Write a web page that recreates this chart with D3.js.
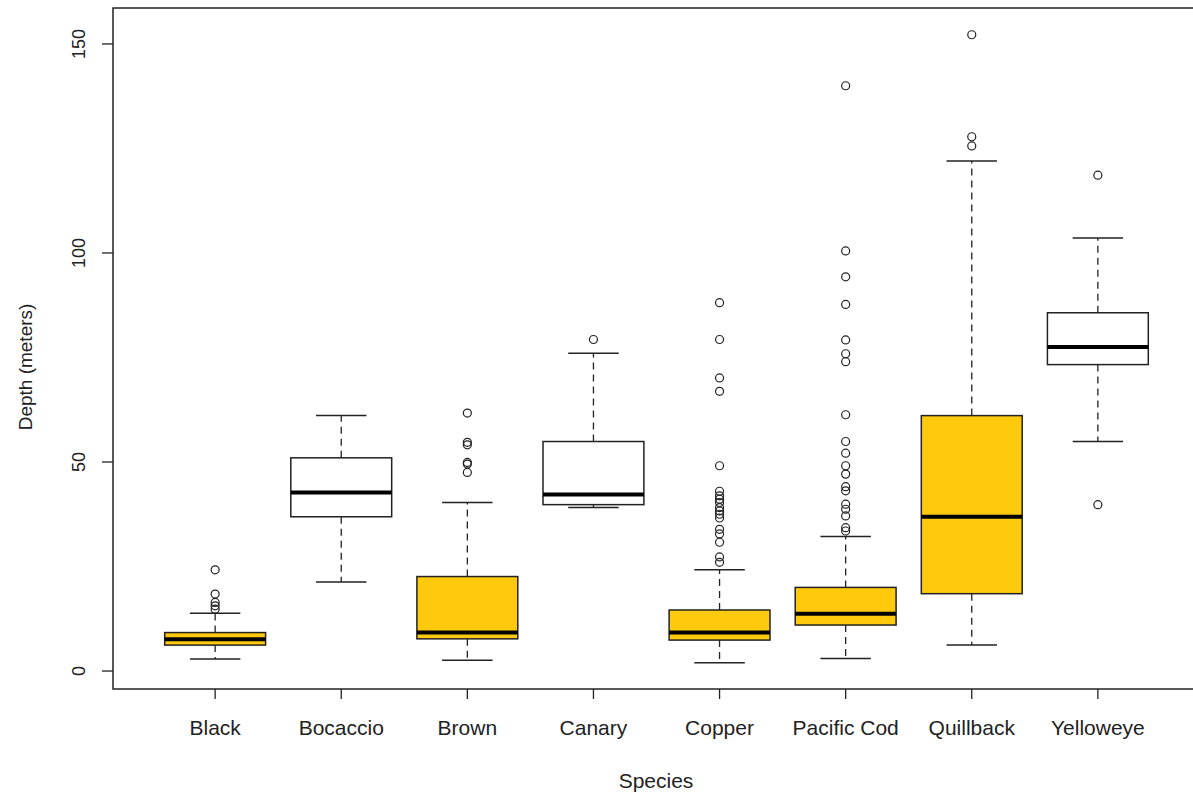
<!DOCTYPE html>
<html>
<head>
<meta charset="utf-8">
<script src="https://cdn.jsdelivr.net/npm/d3@7"></script>
<style>
  body { margin: 0; background: #fff; }
  svg { font-family: "Liberation Sans", Arial, sans-serif; }
</style>
</head>
<body>
<svg id="canvas" width="1193" height="796"></svg>
<script>
let species = ["Black", "Bocaccio", "Brown", "Canary", "Copper", "Pacific Cod", "Quillback", "Yelloweye"];
let lowWhisker = [2.9, 21.3, 2.6, 39.1, 2.0, 3.0, 6.2, 54.9];
let q1 = [6.2, 36.9, 7.7, 39.8, 7.4, 11.0, 18.5, 73.3];
let median = [7.6, 42.7, 9.2, 42.2, 9.2, 13.7, 36.9, 77.5];
let q3 = [9.2, 51.0, 22.6, 54.9, 14.6, 20.0, 61.1, 85.7];
let highWhisker = [13.8, 61.1, 40.3, 76.0, 24.2, 32.2, 122.0, 103.6];
let outliers = [
  [24.2, 18.4, 16.4, 15.6, 14.8],
  [],
  [61.7, 54.7, 54.1, 49.9, 49.5, 47.5],
  [79.3],
  [88.1, 79.3, 70.1, 66.9, 49.1, 43.0, 41.9, 41.1, 40.3, 39.1, 38.3, 37.5, 36.6, 33.9, 32.8, 30.8, 27.3, 26.0],
  [140.0, 100.5, 94.3, 87.7, 79.2, 75.9, 74.0, 61.3, 54.9, 52.1, 49.1, 47.1, 44.1, 43.1, 39.9, 38.7, 37.1, 34.3, 33.5],
  [152.2, 127.8, 125.6],
  [118.6, 39.8]
];
let boxFill = ["#FFC90E", "#FFFFFF", "#FFC90E", "#FFFFFF", "#FFC90E", "#FFC90E", "#FFC90E", "#FFFFFF"];
let yTicks = [0, 50, 100, 150];

let canvas = d3.select("#canvas");

// plot region (R style: frame runs a bit past the last category, off the page)
let plotLeft = 113, plotRight = 1200, plotTop = 8, plotBottom = 689;

let x = d3.scaleLinear().domain([0.19, 8.81]).range([plotLeft, plotRight]);
let y = d3.scaleLinear().domain([-4.3, 158.6]).range([plotBottom, plotTop]);

let boxHalf = 0.4, capHalf = 0.2;

let groups = canvas.selectAll("g.box")
  .data(species)
  .enter()
  .append("g")
  .attr("class", "box");

// whiskers (dashed)
groups.append("line")
  .attr("x1", (d, i) => x(i + 1)).attr("x2", (d, i) => x(i + 1))
  .attr("y1", (d, i) => y(q3[i])).attr("y2", (d, i) => y(highWhisker[i]))
  .attr("stroke", "#222").attr("stroke-width", 1.3).attr("stroke-dasharray", "7,5");
groups.append("line")
  .attr("x1", (d, i) => x(i + 1)).attr("x2", (d, i) => x(i + 1))
  .attr("y1", (d, i) => y(q1[i])).attr("y2", (d, i) => y(lowWhisker[i]))
  .attr("stroke", "#222").attr("stroke-width", 1.3).attr("stroke-dasharray", "7,5");

// caps
groups.append("line")
  .attr("x1", (d, i) => x(i + 1 - capHalf)).attr("x2", (d, i) => x(i + 1 + capHalf))
  .attr("y1", (d, i) => y(highWhisker[i])).attr("y2", (d, i) => y(highWhisker[i]))
  .attr("stroke", "#222").attr("stroke-width", 1.5);
groups.append("line")
  .attr("x1", (d, i) => x(i + 1 - capHalf)).attr("x2", (d, i) => x(i + 1 + capHalf))
  .attr("y1", (d, i) => y(lowWhisker[i])).attr("y2", (d, i) => y(lowWhisker[i]))
  .attr("stroke", "#222").attr("stroke-width", 1.5);

// boxes
groups.append("rect")
  .attr("x", (d, i) => x(i + 1 - boxHalf))
  .attr("width", (d, i) => x(i + 1 + boxHalf) - x(i + 1 - boxHalf))
  .attr("y", (d, i) => y(q3[i]))
  .attr("height", (d, i) => y(q1[i]) - y(q3[i]))
  .attr("fill", (d, i) => boxFill[i])
  .attr("stroke", "#222").attr("stroke-width", 1.5);

// medians
groups.append("line")
  .attr("x1", (d, i) => x(i + 1 - boxHalf)).attr("x2", (d, i) => x(i + 1 + boxHalf))
  .attr("y1", (d, i) => y(median[i])).attr("y2", (d, i) => y(median[i]))
  .attr("stroke", "#000").attr("stroke-width", 4);

// outliers
groups.each(function (d, i) {
  d3.select(this).selectAll("circle")
    .data(outliers[i])
    .enter()
    .append("circle")
    .attr("cx", x(i + 1))
    .attr("cy", (v) => y(v))
    .attr("r", 4)
    .attr("fill", "none")
    .attr("stroke", "#222")
    .attr("stroke-width", 1.2);
});

// frame
canvas.append("rect")
  .attr("x", plotLeft).attr("y", plotTop)
  .attr("width", plotRight - plotLeft).attr("height", plotBottom - plotTop)
  .attr("fill", "none").attr("stroke", "#222").attr("stroke-width", 1.5);

// y axis
let yAxis = canvas.append("g");
yAxis.selectAll("line")
  .data(yTicks)
  .enter()
  .append("line")
  .attr("x1", plotLeft - 11).attr("x2", plotLeft)
  .attr("y1", (v) => y(v)).attr("y2", (v) => y(v))
  .attr("stroke", "#222").attr("stroke-width", 1.3);
yAxis.selectAll("text")
  .data(yTicks)
  .enter()
  .append("text")
  .attr("transform", (v) => "translate(85," + y(v) + ") rotate(-90)")
  .attr("text-anchor", "middle")
  .attr("font-size", 18)
  .attr("fill", "#222")
  .text((v) => v);

// x axis
let xAxis = canvas.append("g");
xAxis.selectAll("line")
  .data(species)
  .enter()
  .append("line")
  .attr("x1", (d, i) => x(i + 1)).attr("x2", (d, i) => x(i + 1))
  .attr("y1", plotBottom).attr("y2", plotBottom + 10)
  .attr("stroke", "#222").attr("stroke-width", 1.3);
xAxis.selectAll("text")
  .data(species)
  .enter()
  .append("text")
  .attr("x", (d, i) => x(i + 1))
  .attr("y", 735)
  .attr("text-anchor", "middle")
  .attr("font-size", 21)
  .attr("fill", "#222")
  .text((d) => d);

// axis titles
canvas.append("text")
  .attr("x", 656).attr("y", 788)
  .attr("text-anchor", "middle")
  .attr("font-size", 21)
  .attr("fill", "#222")
  .text("Species");
canvas.append("text")
  .attr("transform", "translate(32,367) rotate(-90)")
  .attr("text-anchor", "middle")
  .attr("font-size", 19)
  .attr("fill", "#222")
  .text("Depth (meters)");
</script>
</body>
</html>
